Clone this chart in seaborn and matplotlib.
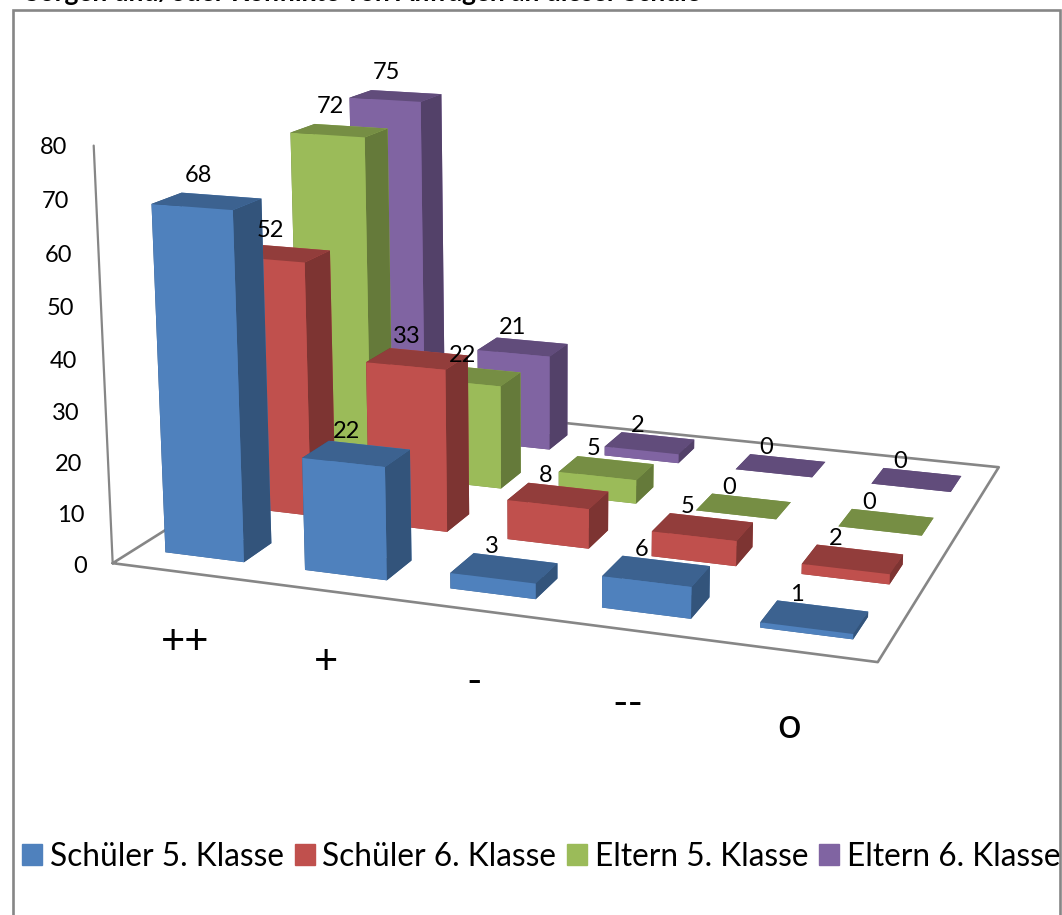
import numpy as np
import seaborn as sns
import matplotlib
matplotlib.use('Agg')
import matplotlib.pyplot as plt
from matplotlib.patches import Patch, Rectangle
from mpl_toolkits.mplot3d import proj3d

# Values
categories = ['++', '+', '-', '--', 'o']
series_names = ['Schüler 5. Klasse', 'Schüler 6. Klasse', 'Eltern 5. Klasse', 'Eltern 6. Klasse']
schueler_5 = [68, 22, 3, 6, 1]
schueler_6 = [52, 33, 8, 5, 2]
eltern_5 = [72, 22, 5, 0, 0]
eltern_6 = [75, 21, 2, 0, 0]
z_ticks = [0, 10, 20, 30, 40, 50, 60, 70, 80]

W, H = 1062, 915
sns.set_theme(style='white')
plt.rcParams['font.family'] = ['Lato', 'DejaVu Sans']
palette = sns.color_palette(['#4F81BD', '#C0504D', '#9BBB59', '#8064A2'])

fig = plt.figure(figsize=(W / 100, H / 100), dpi=100)
fig.patch.set_facecolor('white')

# camera fitted against the corners of the reference
side = 1006.1
ax = fig.add_axes([66.85 / W, 78.71 / H, side / W, side / H], projection='3d', computed_zorder=False)
ax.set_xlim(0, 5)
ax.set_ylim(0, 4)
ax.set_zlim(0, 80)
ax.view_init(elev=13.9678, azim=-70.7925, roll=-0.1897)
ax.set_proj_type('persp', focal_length=0.4521)
ax.set_box_aspect((4.1342, 3.2993, 2.2446))
ax.set_axis_off()
ax.patch.set_alpha(0)
proj = ax.get_proj()


def label(x, y, z, text, size, ha='center', va='center'):
    # text2D so the label stays flat, placed at the projected 3D point
    vx, vy, _ = proj3d.proj_transform(x, y, z, proj)
    ax.text2D(vx, vy, text, transform=ax.transData, fontsize=size, ha=ha, va=va,
              color='black', zorder=200, clip_on=False)


grey = '#868686'
ax.plot([0, 5, 5, 0, 0], [0, 0, 4, 4, 0], [0, 0, 0, 0, 0], color=grey, lw=1.9, zorder=1)
ax.plot([0, 0], [0, 0], [0, 80], color=grey, lw=1.6, zorder=1)

bar_w, bar_d = 0.5681, 0.3957
all_series = [schueler_5, schueler_6, eltern_5, eltern_6]
z = 2
# back row first, so nearer bars cover it
for row in [3, 2, 1, 0]:
    base = np.array(palette[row])
    top = base * 0.76
    right = base * 0.65
    faces = [top, top, base, base, right, right]
    for c, val in enumerate(all_series[row]):
        bar = ax.bar3d(c + 0.5 - bar_w / 2, row + 0.5 - bar_d / 2, 0, bar_w, bar_d, val,
                       color=faces, shade=False, linewidth=0)
        bar.set_zorder(z)
        z += 1

for row, vals in enumerate(all_series):
    for c, val in enumerate(vals):
        label(c + 0.34, row + 0.5 + bar_d / 2, val * 1.03 - 0.5, str(val), 17, va='bottom')

for t in z_ticks:
    label(-0.19, 0, t * 1.008 - 1.3, str(t), 17, ha='right')

for c, name in enumerate(categories):
    label(1.09 + c * 0.915, -1.07, 0, name, 30)

# chart frame runs off the bottom of the picture
fig.add_artist(Rectangle((13 / W, -0.02), 1047 / W, 1.02 - 10 / H, transform=fig.transFigure,
                         fill=False, edgecolor=grey, linewidth=1.9))
fig.text(25 / W, 1 - 1 / H, 'Sorgen und/oder Konflikte von Anfragen an dieser Schule', fontsize=19,
         fontweight='bold', color='black', ha='left', va='baseline')

handles = [Patch(color=palette[i], label=series_names[i]) for i in range(4)]
fig.legend(handles=handles, ncols=4, loc='center left', bbox_to_anchor=(22 / W, 1 - 857 / H),
           frameon=False, fontsize=22.8, handlelength=0.63, handleheight=0.63,
           handletextpad=0.25, columnspacing=0.34, borderpad=0, borderaxespad=0, labelcolor='black')

fig.savefig('out.png', dpi=100)
